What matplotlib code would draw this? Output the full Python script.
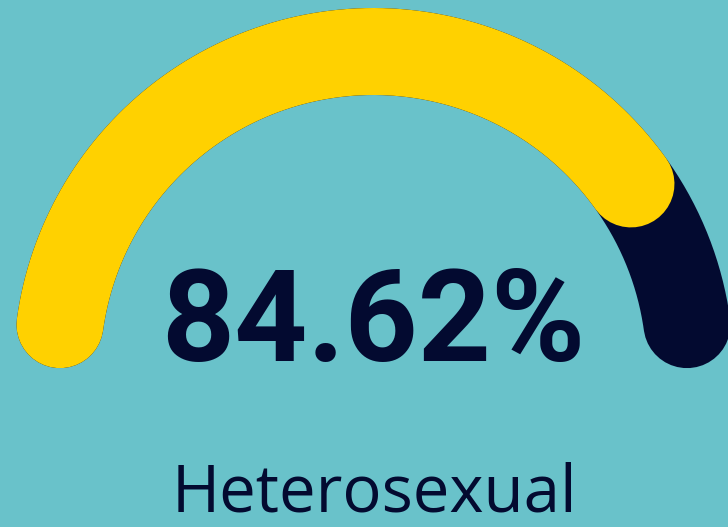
import numpy as np
import matplotlib.pyplot as plt

# gauge data
labels = ['Heterosexual', 'Other']
values = [84.62, 15.38]

bg = '#69c2ca'
yellow = '#ffd100'
navy = '#030a30'

# geometry in pixels
cx, cy = 373.5, 368.0
R = 316.5
width_px = 87.0
cap = np.degrees((width_px / 2) / R)  # angle eaten by a round cap


def arc(a0, a1, n=300):
    t = np.radians(np.linspace(a0, a1, n))
    return cx + R * np.cos(t), cy - R * np.sin(t)


fig = plt.figure(figsize=(7.28, 5.27), dpi=100, facecolor=bg)
ax = fig.add_axes([0, 0, 1, 1])
ax.set_facecolor(bg)
ax.set_xlim(0, 728)
ax.set_ylim(527, 0)
ax.axis('off')

lw = width_px * 72 / 100

total = sum(values)
# background track
x, y = arc(180 - cap, cap)
ax.plot(x, y, color=navy, lw=lw, solid_capstyle='round')
# value part
end = 180 - 180 * values[0] / total
x, y = arc(180 - cap, end + cap)
ax.plot(x, y, color=yellow, lw=lw, solid_capstyle='round')

ax.text(373.5, 361, '%.2f%%' % values[0], ha='center', va='baseline',
        fontsize=92, fontweight='bold', family='Roboto', color=navy)
ax.text(374.5, 512, labels[0], ha='center', va='baseline',
        fontsize=47, family='Open Sans', color=navy)

fig.savefig('out.png', dpi=100, facecolor=bg)
